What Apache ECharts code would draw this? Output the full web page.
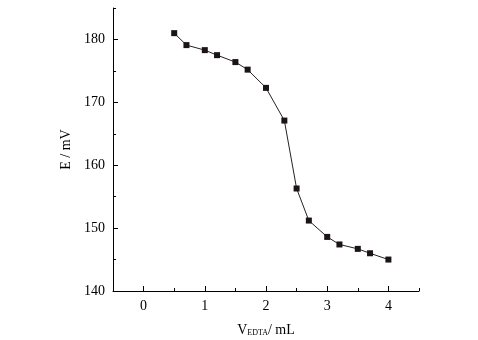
<!DOCTYPE html>
<html><head><meta charset="utf-8">
<script src="https://cdn.jsdelivr.net/npm/echarts@6/dist/echarts.min.js"></script>
<style>html,body{margin:0;padding:0;background:#fff}#c{width:478px;height:340px}</style>
</head><body><div id="c"></div>
<script>
var volumes = [0.5, 0.7, 1.0, 1.2, 1.5, 1.7, 2.0, 2.3, 2.5, 2.7, 3.0, 3.2, 3.5, 3.7, 4.0];
var potentials = [181.0, 179.1, 178.3, 177.5, 176.4, 175.2, 172.3, 167.1, 156.3, 151.2, 148.6, 147.4, 146.7, 146.0, 145.0];
var xTicks = [0, 1, 2, 3, 4];
var yTicks = [140, 150, 160, 170, 180];

var font = 'Liberation Serif';
var chart = echarts.init(document.getElementById('c'), null, {renderer: 'canvas'});
var data = volumes.map(function (v, i) { return [v, potentials[i]]; });
chart.setOption({
  animation: false,
  grid: {left: 113, right: 59, top: 8, bottom: 49, containLabel: false, outerBoundsMode: 'none'},
  xAxis: [{
    type: 'value', min: -0.5, max: 4.5, interval: 0.5,
    axisLine: {show: true, onZero: false, lineStyle: {color: '#000', width: 1}},
    axisTick: {show: true, inside: true, length: 5, customValues: xTicks, lineStyle: {color: '#000'}},
    axisLabel: {customValues: xTicks, color: '#000', fontFamily: font, fontSize: 14, margin: 8},
    splitLine: {show: false},
    name: '{v|V}{s|EDTA}{v|/ mL}', nameLocation: 'middle', nameGap: 32,
    nameTextStyle: {rich: {
      v: {fontFamily: font, fontSize: 14, color: '#000'},
      s: {fontFamily: font, fontSize: 8, color: '#000', padding: [6, 0, 0, 0]}
    }}
  }, {
    type: 'value', min: -0.5, max: 4.5, interval: 0.5, position: 'bottom',
    axisLine: {show: false, onZero: false},
    axisTick: {show: true, inside: true, length: 3, lineStyle: {color: '#000'}},
    axisLabel: {show: false}, splitLine: {show: false}
  }],
  yAxis: [{
    type: 'value', min: 140, max: 185, interval: 5,
    axisLine: {show: true, onZero: false, lineStyle: {color: '#000', width: 1}},
    axisTick: {show: true, inside: true, length: 5, customValues: yTicks, lineStyle: {color: '#000'}},
    axisLabel: {customValues: yTicks, color: '#000', fontFamily: font, fontSize: 14, margin: 8},
    splitLine: {show: false},
    name: 'E / mV', nameLocation: 'middle', nameGap: 38,
    nameTextStyle: {fontFamily: font, fontSize: 14, color: '#000'}
  }, {
    type: 'value', min: 140, max: 185, interval: 5, position: 'left',
    axisLine: {show: false, onZero: false},
    axisTick: {show: true, inside: true, length: 3, lineStyle: {color: '#000'}},
    axisLabel: {show: false}, splitLine: {show: false}
  }],
  series: [{
    type: 'line', xAxisIndex: 0, yAxisIndex: 0, data: data,
    symbol: 'rect', symbolSize: 6,
    itemStyle: {color: '#1a1414'},
    lineStyle: {color: '#222', width: 1}
  }]
});
</script></body></html>
